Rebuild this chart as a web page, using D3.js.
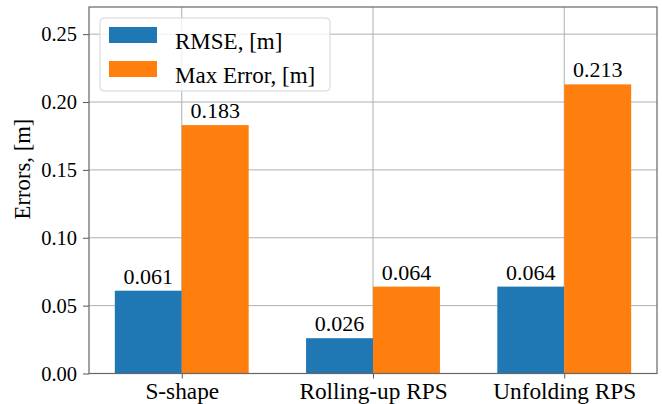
<!DOCTYPE html>
<html>
<head>
<meta charset="utf-8">
<script src="https://cdn.jsdelivr.net/npm/d3@7"></script>
<style>
  body { margin: 0; background: #fff; }
  svg text { fill: #000; }
</style>
</head>
<body>
<svg id="chart" width="662" height="404"></svg>
<script>
// data
var categories = ["S-shape", "Rolling-up RPS", "Unfolding RPS"];
var rmse = [0.061, 0.026, 0.064];
var maxError = [0.183, 0.064, 0.213];
var seriesNames = ["RMSE, [m]", "Max Error, [m]"];
var yTicks = [0.00, 0.05, 0.10, 0.15, 0.20, 0.25];

const width = 662, height = 404;
const marginLeft = 89, marginRight = 5, marginTop = 7, marginBottom = 30.5;
const barW = 0.35;
const colors = ["#1f77b4", "#ff7f0e"];
const serif = '"Liberation Serif", "Times New Roman", serif';

var svg = d3.select("#chart");

var xScale = d3.scaleLinear()
    .domain([-0.485, 2.485])
    .range([marginLeft, width - marginRight]);
var yScale = d3.scaleLinear()
    .domain([0, 0.27])
    .range([height - marginBottom, marginTop]);

// grid
svg.append("g")
    .selectAll("line")
    .data(yTicks)
    .join("line")
    .attr("x1", marginLeft).attr("x2", width - marginRight)
    .attr("y1", d => yScale(d)).attr("y2", d => yScale(d))
    .attr("stroke", "#b0b0b0").attr("stroke-width", 1);
svg.append("g")
    .selectAll("line")
    .data(categories)
    .join("line")
    .attr("x1", (d, i) => xScale(i)).attr("x2", (d, i) => xScale(i))
    .attr("y1", marginTop).attr("y2", height - marginBottom)
    .attr("stroke", "#b0b0b0").attr("stroke-width", 1);

// bars
var series = [rmse, maxError];
series.forEach(function(vals, s) {
    var off = s === 0 ? -barW : 0;
    svg.append("g")
        .selectAll("rect")
        .data(vals)
        .join("rect")
        .attr("x", (d, i) => xScale(i + off))
        .attr("y", d => yScale(d))
        .attr("width", (d, i) => xScale(i + off + barW) - xScale(i + off))
        .attr("height", d => yScale(0) - yScale(d))
        .attr("fill", colors[s]);
    svg.append("g")
        .attr("text-anchor", "middle")
        .selectAll("text")
        .data(vals)
        .join("text")
        .attr("x", (d, i) => xScale(i + off + barW / 2))
        .attr("y", d => yScale(d) - 7)
        .style("font-family", serif)
        .style("font-size", "22px")
        .text(d => d3.format(".3f")(d));
});

// axes
svg.append("g")
    .attr("transform", `translate(${marginLeft},0)`)
    .call(d3.axisLeft(yScale).tickValues(yTicks).tickFormat(d3.format(".2f")).tickSizeOuter(0).tickSize(6).tickPadding(6))
    .selectAll(".tick text")
    .style("font-family", serif)
    .style("font-size", "20.5px");
svg.append("g")
    .attr("transform", `translate(0,${height - marginBottom})`)
    .call(d3.axisBottom(xScale).tickValues([0, 1, 2]).tickFormat(i => categories[i]).tickSizeOuter(0).tickSize(5))
    .selectAll(".tick text")
    .attr("y", 25.5).attr("dy", 0)
    .style("font-family", serif)
    .style("font-size", "23.3px");
svg.selectAll(".domain").remove();
svg.selectAll(".tick line").attr("stroke", "#555");

// frame
svg.append("rect")
    .attr("x", marginLeft).attr("y", marginTop)
    .attr("width", width - marginRight - marginLeft)
    .attr("height", height - marginBottom - marginTop)
    .attr("fill", "none").attr("stroke", "#666").attr("stroke-width", 1.2);

// y label
svg.append("text")
    .attr("transform", "translate(30,169) rotate(-90)")
    .attr("text-anchor", "middle")
    .style("font-family", serif)
    .style("font-size", "22.7px")
    .text("Errors, [m]");

// legend
var lg = svg.append("g");
lg.append("rect")
    .attr("x", 100).attr("y", 18).attr("width", 230).attr("height", 73)
    .attr("rx", 4)
    .attr("fill", "#fff").attr("fill-opacity", 0.8)
    .attr("stroke", "#d5d5d5");
seriesNames.forEach(function(name, s) {
    lg.append("rect")
        .attr("x", 109).attr("y", 27 + s * 34)
        .attr("width", 48).attr("height", 16)
        .attr("fill", colors[s]);
    lg.append("text")
        .attr("x", 175).attr("y", 49 + s * 33.5)
        .style("font-family", serif)
        .style("font-size", "23px")
        .text(name);
});
</script>
</body>
</html>
